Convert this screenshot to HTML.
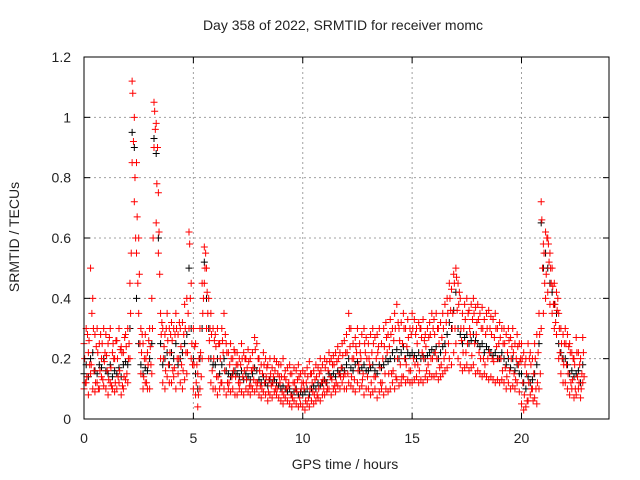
<!DOCTYPE html>
<html><head><meta charset="utf-8"><style>
html,body{margin:0;padding:0;background:#fff;}
svg{display:block;font-family:"Liberation Sans",sans-serif;}
</style></head><body>
<svg id="chart" width="640" height="480" viewBox="0 0 640 480"></svg>
<script>
const times=[0.0,0.1,0.2,0.3,0.4,0.5,0.6,0.7,0.8,0.9,1.0,1.1,1.2,1.3,1.4,1.5,1.6,1.7,1.8,1.9,2.0,2.1,2.2,2.3,2.4,2.5,2.6,2.7,2.8,2.9,3.0,3.1,3.2,3.3,3.4,3.5,3.6,3.7,3.8,3.9,4.0,4.1,4.2,4.3,4.4,4.5,4.6,4.7,4.8,4.9,5.0,5.1,5.2,5.3,5.4,5.5,5.6,5.7,5.8,5.9,6.0,6.1,6.2,6.3,6.4,6.5,6.6,6.7,6.8,6.9,7.0,7.1,7.2,7.3,7.4,7.5,7.6,7.7,7.8,7.9,8.0,8.1,8.2,8.3,8.4,8.5,8.6,8.7,8.8,8.9,9.0,9.1,9.2,9.3,9.4,9.5,9.6,9.7,9.8,9.9,10.0,10.1,10.2,10.3,10.4,10.5,10.6,10.7,10.8,10.9,11.0,11.1,11.2,11.3,11.4,11.5,11.6,11.7,11.8,11.9,12.0,12.1,12.2,12.3,12.4,12.5,12.6,12.7,12.8,12.9,13.0,13.1,13.2,13.3,13.4,13.5,13.6,13.7,13.8,13.9,14.0,14.1,14.2,14.3,14.4,14.5,14.6,14.7,14.8,14.9,15.0,15.1,15.2,15.3,15.4,15.5,15.6,15.7,15.8,15.9,16.0,16.1,16.2,16.3,16.4,16.5,16.6,16.7,16.8,16.9,17.0,17.1,17.2,17.3,17.4,17.5,17.6,17.7,17.8,17.9,18.0,18.1,18.2,18.3,18.4,18.5,18.6,18.7,18.8,18.9,19.0,19.1,19.2,19.3,19.4,19.5,19.6,19.7,19.8,19.9,20.0,20.1,20.2,20.3,20.4,20.5,20.6,20.7,20.8,20.9,21.0,21.1,21.2,21.3,21.4,21.5,21.6,21.7,21.8,21.9,22.0,22.1,22.2,22.3,22.4,22.5,22.6,22.7,22.8];
const redHigh=[.25,.3,.22,.5,.4,.28,.3,.25,.2,.3, .28,.25,.3,.22,.2,.26,.3,.24,.22,.28, .3,.45,1.12,1.0,.85,.6,.3,.25,.28,.22, .3,.4,1.05,.98,.75,.35,.3,.28,.35,.3, .32,.3,.35,.28,.3,.32,.38,.4,.62,.45, .3,.25,.15,.3,.45,.57,.5,.4,.35,.3, .28,.3,.25,.3,.35,.25,.22,.25,.2,.22, .22,.2,.25,.22,.2,.23,.2,.22,.27,.25, .2,.18,.22,.2,.18,.2,.17,.2,.19,.18, .18,.2,.16,.17,.18,.15,.17,.16,.18,.15, .16,.15,.17,.19,.15,.16,.18,.17,.2,.18, .2,.19,.22,.2,.21,.22,.24,.22,.25,.26, .28,.35,.3,.25,.27,.3,.25,.28,.3,.27, .25,.28,.3,.27,.28,.3,.25,.3,.32,.28, .33,.3,.35,.38,.3,.32,.35,.3,.33,.3, .35,.33,.3,.32,.3,.33,.28,.3,.32,.35, .33,.35,.3,.32,.35,.38,.4,.45,.43,.48, .5,.45,.4,.35,.38,.4,.36,.38,.4,.37, .38,.35,.37,.33,.35,.36,.34,.33,.35,.3, .32,.3,.3,.28,.3,.27,.3,.25,.28,.25, .25,.22,.2,.25,.22,.2,.25,.28,.35,.72, .58,.62,.6,.55,.5,.45,.42,.35,.3,.28, .3,.28,.25,.22,.2,.27,.22,.2,.27];
const redLow=[.1,.12,.08,.15,.1,.09,.12,.1,.14,.11, .1,.08,.12,.1,.09,.1,.12,.08,.1,.13, .12,.2,.85,.72,.55,.35,.15,.1,.12,.1, .1,.15,.9,.65,.55,.2,.12,.1,.14,.12, .12,.14,.1,.15,.12,.1,.13,.15,.3,.2, .1,.08,.04,.1,.2,.45,.3,.2,.12,.1, .1,.08,.1,.12,.1,.08,.1,.09,.1,.08, .08,.1,.09,.08,.1,.09,.08,.1,.09,.1, .08,.07,.09,.08,.06,.08,.07,.09,.08,.07, .06,.05,.07,.06,.05,.04,.06,.05,.04,.05, .04,.03,.05,.04,.06,.05,.06,.07,.06,.08, .08,.09,.1,.08,.1,.09,.11,.1,.12,.1, .1,.12,.11,.1,.09,.12,.1,.11,.08,.1, .1,.08,.09,.1,.07,.09,.1,.08,.1,.09, .1,.12,.1,.13,.11,.12,.14,.12,.13,.12, .12,.13,.14,.12,.13,.12,.14,.13,.15,.14, .14,.15,.13,.14,.15,.16,.17,.2,.18,.22, .25,.2,.18,.16,.17,.18,.16,.17,.18,.15, .16,.15,.14,.15,.14,.13,.14,.13,.12,.13, .12,.13,.12,.1,.12,.1,.11,.1,.12,.09, .05,.03,.04,.06,.08,.1,.07,.05,.1,.3, .35,.4,.42,.38,.35,.3,.28,.2,.15,.12, .12,.1,.08,.1,.07,.08,.1,.07,.12];
const redMid=[.2,.14,.26,.18,.3,.12,.22,.16,.25,.19, .21,.13,.17,.25,.12,.2,.16,.22,.14,.24, .2,.35,1.08,.8,.67,.48,.22,.14,.2,.18, .24,.3,1.02,.78,.62,.28,.2,.16,.26,.22, .26,.17,.3,.2,.24,.16,.3,.22,.58,.25, .18,.12,.08,.22,.35,.5,.42,.26,.28,.2, .24,.14,.2,.26,.16,.22,.12,.2,.16,.14, .18,.12,.2,.16,.13,.19,.11,.17,.23,.12, .16,.1,.18,.14,.09,.15,.12,.16,.1,.14, .14,.08,.13,.11,.15,.07,.12,.09,.14,.1, .12,.06,.14,.1,.12,.08,.14,.1,.16,.13, .17,.1,.19,.13,.18,.12,.2,.14,.21,.15, .22,.3,.14,.2,.24,.16,.22,.13,.25,.2, .2,.12,.25,.14,.22,.17,.12,.24,.27,.15, .28,.16,.3,.2,.26,.14,.3,.18,.27,.16, .3,.18,.25,.16,.27,.2,.24,.18,.28,.2, .28,.2,.25,.18,.3,.22,.35,.4,.3,.45, .47,.38,.3,.22,.33,.25,.3,.21,.35,.28, .33,.2,.3,.18,.3,.22,.28,.19,.3,.2, .27,.16,.25,.14,.26,.2,.22,.13,.24,.19, .2,.08,.15,.12,.18,.06,.2,.12,.28,.66, .55,.48,.58,.5,.44,.38,.36,.3,.25,.18, .25,.15,.22,.13,.18,.22,.12,.1,.22];
const redMid2=[.12,.28,.18,.35,.16,.24,.1,.28,.13,.22, .16,.27,.11,.2,.26,.14,.23,.11,.27,.15, .25,.55,.92,.6,.45,.25,.28,.2,.12,.26, .18,.6,.96,.9,.48,.32,.24,.3,.18,.28, .16,.28,.2,.32,.18,.28,.22,.35,.4,.18, .24,.18,.2,.14,.4,.55,.35,.3,.16,.26, .14,.25,.12,.22,.28,.12,.18,.14,.23,.18, .12,.18,.14,.2,.17,.11,.16,.13,.12,.2, .11,.15,.12,.17,.13,.11,.14,.1,.15,.12, .09,.14,.1,.12,.08,.12,.1,.13,.07,.12, .1,.12,.07,.15,.09,.13,.08,.15,.12,.1, .12,.16,.14,.18,.11,.19,.15,.17,.14,.22, .15,.24,.2,.13,.22,.18,.2,.15,.22,.14, .18,.22,.14,.2,.24,.12,.2,.15,.22,.24, .15,.26,.14,.32,.18,.25,.2,.24,.16,.28, .2,.28,.18,.3,.22,.26,.16,.27,.2,.3, .22,.3,.17,.27,.2,.32,.25,.36,.35,.3, .36,.42,.26,.3,.22,.35,.28,.33,.25,.32, .22,.3,.2,.28,.2,.3,.2,.27,.24,.25, .2,.25,.17,.22,.16,.24,.15,.2,.18,.2, .12,.18,.06,.2,.1,.15,.1,.22,.15,.5, .45,.6,.52,.45,.38,.32,.4,.22,.2,.25, .18,.24,.12,.2,.1,.14,.18,.15,.14];
const blackMid=[.15,.18,.14,.2,.22,.16,.15,.18,.17,.2, .16,.15,.18,.14,.16,.15,.17,.14,.18,.19, .18,.3,.95,.9,.4,.25,.18,.15,.17,.16, .2,.25,.93,.88,.6,.25,.18,.2,.22,.18, .22,.2,.25,.18,.2,.22,.25,.28,.5,.3, .2,.15,.1,.2,.3,.52,.4,.3,.2,.18, .18,.2,.15,.18,.2,.16,.15,.14,.15,.16, .15,.14,.16,.13,.15,.14,.13,.15,.17,.16, .13,.12,.14,.12,.11,.13,.12,.13,.12,.11, .1,.11,.1,.09,.1,.08,.09,.1,.08,.09, .08,.09,.1,.08,.1,.11,.1,.12,.11,.12, .13,.12,.15,.14,.15,.14,.16,.15,.17,.16, .18,.2,.17,.16,.18,.19,.16,.17,.18,.16, .16,.17,.18,.16,.15,.18,.17,.18,.2,.19, .2,.22,.2,.23,.2,.22,.24,.2,.22,.21, .22,.21,.2,.22,.2,.21,.2,.21,.22,.23, .22,.24,.2,.22,.24,.25,.28,.32,.3,.36, .42,.3,.28,.25,.27,.28,.25,.26,.28,.26, .25,.24,.25,.22,.24,.23,.22,.21,.22,.2, .2,.22,.2,.18,.2,.17,.2,.16,.18,.15, .15,.12,.1,.14,.12,.13,.15,.18,.25,.65, .5,.55,.5,.45,.42,.38,.35,.25,.22,.2, .2,.18,.15,.16,.14,.15,.16,.12,.18];
const midTimeOffset=0.03;
const mid2TimeOffset=0.06;
const xTicks=[0,5,10,15,20];
const yTicks=[0,0.2,0.4,0.6,0.8,1,1.2];
const yTickLabels=["0","0.2","0.4","0.6","0.8","1","1.2"];

const X0=84,X1=609,Y0=419,Y1=57,XMAX=24,YMAX=1.2;
const sx=t=>X0+(X1-X0)*t/XMAX;
const sy=v=>Y0-(Y0-Y1)*v/YMAX;
const svg=document.getElementById('chart');
const NS='http://www.w3.org/2000/svg';
function mk(tag,attrs,parent){const e=document.createElementNS(NS,tag);for(const k in attrs)e.setAttribute(k,attrs[k]);(parent||svg).appendChild(e);return e;}

xTicks.forEach(t=>{if(t===0)return;
 const g=mk('line',{x1:sx(t),x2:sx(t),y1:Y0,y2:Y1,stroke:'#a0a0a0','stroke-dasharray':'2,3','stroke-width':1});
 
 
});
yTicks.forEach(v=>{if(v===0||v===YMAX)return;
 const g=mk('line',{x1:X0,x2:X1,y1:sy(v),y2:sy(v),stroke:'#a0a0a0','stroke-dasharray':'2,3','stroke-width':1});
 
 
});

function plus(t,v,color,name){
 const x=sx(t),y=sy(v);
 const p=mk('path',{d:`M${x-3.5} ${y}H${x+3.5}M${x} ${y-3.5}V${y+3.5}`,stroke:color,'stroke-width':1,fill:'none'});
 
 
}
times.forEach((t,i)=>plus(t,blackMid[i],'#000','black-point'));
times.forEach((t,i)=>plus(t,redHigh[i],'#ff0000','red-point'));
times.forEach((t,i)=>plus(t,redLow[i],'#ff0000','red-point'));
times.forEach((t,i)=>plus(t+midTimeOffset,redMid[i],'#ff0000','red-point'));
times.forEach((t,i)=>plus(t+mid2TimeOffset,redMid2[i],'#ff0000','red-point'));

const fr=mk('rect',{x:X0,y:Y1,width:X1-X0,height:Y0-Y1,fill:'none',stroke:'#000','stroke-width':1});



xTicks.forEach(t=>{
 mk('line',{x1:sx(t),x2:sx(t),y1:Y0,y2:Y0-6,stroke:'#000'});
 mk('line',{x1:sx(t),x2:sx(t),y1:Y1,y2:Y1+6,stroke:'#000'});
 const tx=mk('text',{x:sx(t),y:443,'text-anchor':'middle','font-size':14,fill:'#222'});
 tx.textContent=String(t);
 
 
});
yTicks.forEach((v,i)=>{
 mk('line',{x1:X0,x2:X0+6,y1:sy(v),y2:sy(v),stroke:'#000'});
 mk('line',{x1:X1,x2:X1-6,y1:sy(v),y2:sy(v),stroke:'#000'});
 const tx=mk('text',{x:71,y:sy(v)+5,'text-anchor':'end','font-size':14,fill:'#222'});
 tx.textContent=yTickLabels[i];
 
 
});
</script>
<div style="position:absolute;left:0;top:0;width:640px;height:480px;pointer-events:none;font-family:'Liberation Sans',sans-serif;">
 <div style="position:absolute;left:0;width:686px;top:17px;text-align:center;font-size:14px;color:#222;">Day 358 of 2022, SRMTID for receiver momc</div>
 <div style="position:absolute;left:0;width:690px;top:456px;text-align:center;font-size:14px;color:#222;">GPS time / hours</div>
 <div style="position:absolute;left:-86px;top:229px;width:200px;text-align:center;font-size:14px;color:#222;transform:rotate(-90deg);">SRMTID / TECUs</div>
</div>
</body></html>
